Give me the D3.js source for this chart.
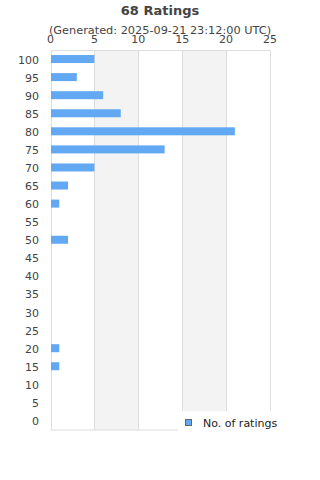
<!DOCTYPE html>
<html>
<head>
<meta charset="utf-8">
<script src="https://cdn.jsdelivr.net/npm/d3@7"></script>
<style>
  body { margin: 0; background: #fff; }
  text { font-family: "DejaVu Sans", sans-serif; }
</style>
</head>
<body>
<div id="chart"></div>
<script>
const categories = ["100", "95", "90", "85", "80", "75", "70", "65", "60", "55", "50",
  "45", "40", "35", "30", "25", "20", "15", "10", "5", "0"];
const ratings = [5, 3, 6, 8, 21, 13, 5, 2, 1, 0, 2, 0, 0, 0, 0, 0, 1, 1, 0, 0, 0];
const xTicks = [0, 5, 10, 15, 20, 25];

const width = 320, height = 480;
const plotLeft = 50.5, plotRight = 270, plotTop = 50.5, plotBottom = 430;

const svg = d3.select("#chart")
  .append("svg")
  .attr("width", width)
  .attr("height", height);

const x = d3.scaleLinear().domain([0, 25]).range([plotLeft, plotRight]);
const y = d3.scaleBand().domain(categories).range([plotTop, plotBottom]);

// alternating shaded columns
svg.selectAll("rect.band")
  .data(xTicks.slice(0, -1).filter((d, i) => i % 2 == 1))
  .enter()
  .append("rect")
  .attr("x", d => x(d))
  .attr("width", d => x(d + 5) - x(d))
  .attr("y", plotTop)
  .attr("height", plotBottom - plotTop)
  .style("fill", "#f3f3f3");

// grid lines
svg.selectAll("line.grid")
  .data(xTicks)
  .enter()
  .append("line")
  .attr("x1", d => Math.round(x(d)) + 0.5)
  .attr("x2", d => Math.round(x(d)) + 0.5)
  .attr("y1", plotTop)
  .attr("y2", plotBottom)
  .style("stroke", "#dddddd");

svg.append("line")
  .attr("x1", plotLeft).attr("x2", plotRight)
  .attr("y1", plotTop).attr("y2", plotTop)
  .style("stroke", "#dddddd");
svg.append("line")
  .attr("x1", plotLeft).attr("x2", plotRight)
  .attr("y1", plotBottom).attr("y2", plotBottom)
  .style("stroke", "#dddddd");

// bars
svg.selectAll("rect.bar")
  .data(ratings)
  .enter()
  .append("rect")
  .attr("x", x(0) + 0.5)
  .attr("y", (d, i) => y(categories[i]) + y.bandwidth() / 2 - 4.5)
  .attr("width", d => Math.max(0, x(d) - x(0) - 0.5))
  .attr("height", 8)
  .style("fill", "#62a8f2");

// x tick labels (top)
svg.selectAll("text.xt")
  .data(xTicks)
  .enter()
  .append("text")
  .attr("x", d => x(d))
  .attr("y", 43)
  .attr("text-anchor", "middle")
  .style("font-size", "11px")
  .style("fill", "#444")
  .text(d => d);

// y tick labels
svg.selectAll("text.yt")
  .data(categories)
  .enter()
  .append("text")
  .attr("x", 39)
  .attr("y", d => y(d) + y.bandwidth() / 2 + 4)
  .attr("text-anchor", "end")
  .style("font-size", "11px")
  .style("fill", "#444")
  .text(d => d);

// title
svg.append("text")
  .attr("x", 160)
  .attr("y", 15)
  .attr("text-anchor", "middle")
  .style("font-size", "13px")
  .style("font-weight", "bold")
  .style("fill", "#444")
  .text("68 Ratings");

svg.append("text")
  .attr("x", 160)
  .attr("y", 34)
  .attr("text-anchor", "middle")
  .style("font-size", "11.3px")
  .style("fill", "#444")
  .text("(Generated: 2025-09-21 23:12:00 UTC)");

// legend
svg.append("rect")
  .attr("x", 178)
  .attr("y", 411)
  .attr("width", 142)
  .attr("height", 22)
  .style("fill", "#fff");

svg.append("rect")
  .attr("x", 185.5)
  .attr("y", 419.5)
  .attr("width", 6)
  .attr("height", 6)
  .style("fill", "#62a8f2")
  .style("stroke", "#666");

svg.append("text")
  .attr("x", 203)
  .attr("y", 427)
  .style("font-size", "11px")
  .style("fill", "#222")
  .text("No. of ratings");
</script>
</body>
</html>
